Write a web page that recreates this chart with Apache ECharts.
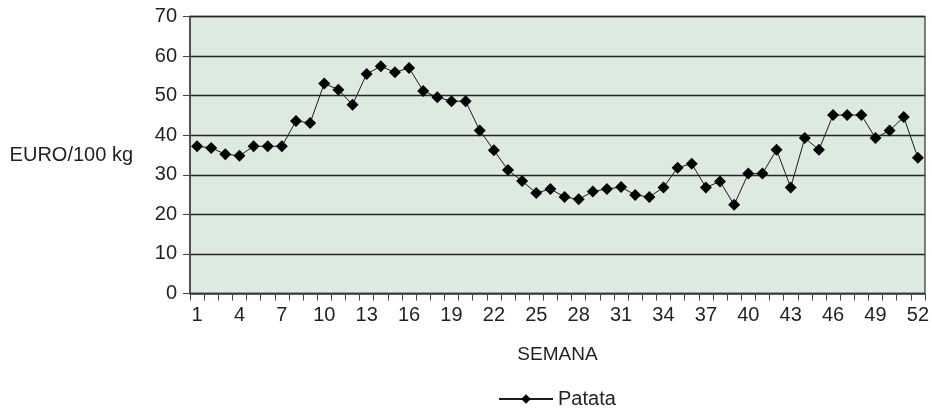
<!DOCTYPE html>
<html>
<head>
<meta charset="utf-8">
<script src="https://cdn.jsdelivr.net/npm/echarts@6/dist/echarts.min.js"></script>
<style>
  html, body { margin: 0; padding: 0; background: #ffffff; }
  #chart { width: 932px; height: 409px; }
</style>
</head>
<body>
<div id="chart"></div>
<script>
var weeks = [];
for (var w = 1; w <= 52; w++) { weeks.push(String(w)); }
var patata = [
  37.2, 36.8, 35.2, 34.8, 37.2, 37.2, 37.2, 43.6, 43.1, 53.1,
  51.5, 47.7, 55.5, 57.4, 55.9, 57.0, 51.2, 49.6, 48.6, 48.6,
  41.2, 36.2, 31.2, 28.4, 25.4, 26.4, 24.4, 23.8, 25.8, 26.4,
  26.9, 24.9, 24.4, 26.8, 31.8, 32.8, 26.8, 28.3, 22.4, 30.3,
  30.3, 36.3, 26.8, 39.3, 36.3, 45.1, 45.1, 45.1, 39.3, 41.2,
  44.6, 34.3
];
var seriesName = 'Patata';
var yAxisTitle = 'EURO/100 kg';
var xAxisTitle = 'SEMANA';

var txt = '#231f20';
var font = 'Liberation Sans';
var chart = echarts.init(document.getElementById('chart'), null, { renderer: 'canvas' });
chart.setOption({
  animation: false,
  backgroundColor: '#ffffff',
  textStyle: { fontFamily: font, color: txt },
  grid: { left: 190, right: 6, top: 16.5, bottom: 115.5, show: true,
          backgroundColor: '#ddeadf', borderColor: '#555555', borderWidth: 1.5 },
  legend: {
    data: [seriesName], left: 493, top: 384,
    itemWidth: 54, itemHeight: 12, itemGap: 10,
    textStyle: { fontFamily: font, fontSize: 20, color: txt }
  },
  xAxis: {
    type: 'category', data: weeks, boundaryGap: true,
    name: xAxisTitle, nameLocation: 'middle', nameGap: 52,
    nameTextStyle: { fontFamily: font, fontSize: 19, color: txt },
    axisLine: { lineStyle: { color: '#444444', width: 1.5 } },
    axisTick: { show: true, interval: 0, length: 7, lineStyle: { color: '#444444' } },
    axisLabel: { interval: 2, margin: 12, fontFamily: font, fontSize: 20, color: txt },
    splitLine: { show: false }
  },
  yAxis: {
    type: 'value', min: 0, max: 70, interval: 10,
    name: yAxisTitle, nameLocation: 'middle', nameGap: 57, nameRotate: 0,
    nameTextStyle: { fontFamily: font, fontSize: 20, color: txt, padding: [14, 0, 0, 0] },
    axisLine: { show: true, lineStyle: { color: '#444444', width: 1.5 } },
    axisTick: { show: true, length: 7, lineStyle: { color: '#444444' } },
    axisLabel: { margin: 13, fontFamily: font, fontSize: 20, color: txt },
    splitLine: { show: true, lineStyle: { color: '#262626', width: 1.3 } }
  },
  series: [{
    name: seriesName, type: 'line', data: patata,
    symbol: 'diamond', symbolSize: 12, showSymbol: true, showAllSymbol: true,
    lineStyle: { color: '#1a1a1a', width: 1 },
    itemStyle: { color: '#000000' }
  }]
});
</script>
</body>
</html>
